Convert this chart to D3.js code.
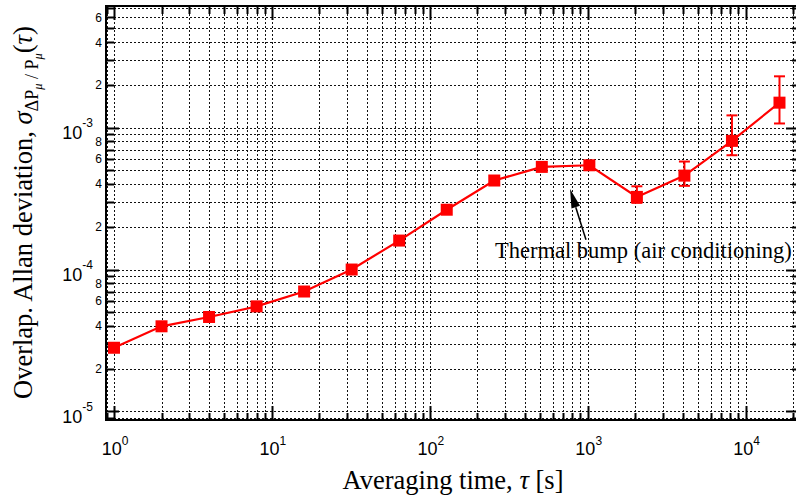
<!DOCTYPE html>
<html><head><meta charset="utf-8">
<script src="https://cdn.jsdelivr.net/npm/d3@7"></script>
<style>html,body{margin:0;padding:0;background:#fff;} svg{display:block}</style>
</head><body>
<svg id="c" width="796" height="500"></svg>
<script>
// ---- data ----
const tau   = [1, 2, 4, 8, 16, 32, 64, 128, 256, 512, 1024, 2048, 4096, 8192, 16384];
const adev  = [2.81e-5, 3.98e-5, 4.63e-5, 5.5e-5, 7.0e-5, 1.0e-4, 1.6e-4, 2.64e-4, 4.24e-4, 5.29e-4, 5.43e-4, 3.25e-4, 4.59e-4, 8.07e-4, 1.50e-3];
const errLo = [null, null, null, null, null, null, null, null, null, null, null, 2.95e-4, 3.89e-4, 6.39e-4, 1.07e-3];
const errHi = [null, null, null, null, null, null, null, null, null, null, null, 3.86e-4, 5.77e-4, 1.22e-3, 2.30e-3];
const xMajor = [1, 10, 100, 1000, 10000];
const xMajorExp = ["0", "1", "2", "3", "4"];
const yMajor = [1e-5, 1e-4, 1e-3];
const yMajorExp = ["-5", "-4", "-3"];
const yMinorDigits = [2, 4, 6, 8];
const annText = "Thermal bump (air conditioning)";
const annTextEnd = [19600, 1.2e-4];
const annArrowFrom = [975, 1.62e-4];
const annArrowTo = [773, 3.69e-4];

// ---- layout ----
const L = 106, R = 797, T = 6, B = 420;
const svg = d3.select("#c");
const x = d3.scaleLog().domain([0.89, 21150]).range([L, R]);
const y = d3.scaleLog().domain([8.7e-6, 7.2e-3]).range([B, T]);

function gridVals(scale) {
  const [a, b] = scale.domain();
  const out = [];
  for (let e = Math.floor(Math.log10(a)); e <= Math.ceil(Math.log10(b)); e++)
    for (let m = 1; m <= 9; m++) {
      const v = m * Math.pow(10, e);
      if (v >= a && v <= b) out.push(v);
    }
  return out;
}
const isMajor = v => Math.abs(Math.log10(v) - Math.round(Math.log10(v))) < 1e-9;
const xg = gridVals(x), yg = gridVals(y);
const px = v => Math.round(x(v)) + 0.5, py = v => Math.round(y(v)) + 0.5;

// grid
const g = svg.append("g").attr("stroke", "#111").attr("stroke-width", 1).attr("stroke-dasharray", "2,2");
g.selectAll("line.gx").data(xg).join("line").attr("class", "gx")
  .attr("x1", px).attr("x2", px).attr("y1", T).attr("y2", B);
g.selectAll("line.gy").data(yg).join("line").attr("class", "gy")
  .attr("y1", py).attr("y2", py).attr("x1", L).attr("x2", R);

// ticks
const tk = svg.append("g").attr("stroke", "#000").attr("stroke-width", 2);
tk.selectAll("line.tb").data(xg).join("line").attr("x1", px).attr("x2", px)
  .attr("y1", B).attr("y2", d => B - (isMajor(d) ? 14 : 7));
tk.selectAll("line.tt").data(xg).join("line").attr("x1", px).attr("x2", px)
  .attr("y1", T).attr("y2", d => T + (isMajor(d) ? 14 : 8));
tk.selectAll("line.tl").data(yg).join("line").attr("y1", py).attr("y2", py)
  .attr("x1", L).attr("x2", d => L + (isMajor(d) ? 13 : 8));
tk.selectAll("line.tr").data(yg).join("line").attr("y1", py).attr("y2", py)
  .attr("x1", R).attr("x2", d => R - (isMajor(d) ? 11 : 5));

// frame
svg.append("rect").attr("x", L).attr("y", T).attr("width", R - L).attr("height", B - T)
  .attr("fill", "none").attr("stroke", "#000").attr("stroke-width", 2);

// x tick labels
const sans = "'Liberation Sans', Arial, sans-serif";
const xl = svg.append("g").attr("font-family", sans).attr("fill", "#000");
xMajor.forEach((v, i) => {
  const t = xl.append("text").attr("x", x(v) + 1).attr("y", 455).attr("text-anchor", "middle").attr("font-size", 18);
  t.append("tspan").text("10");
  t.append("tspan").attr("font-size", 12).attr("dy", -10).text(xMajorExp[i]);
});
// y tick labels
yMajor.forEach((v, i) => {
  const t = xl.append("text").attr("x", 93).attr("y", y(v) + 11.7).attr("text-anchor", "end").attr("font-size", 18);
  t.append("tspan").text("10");
  t.append("tspan").attr("font-size", 12).attr("dy", -12).text(yMajorExp[i]);
});
const yMinorVals = [];
yMajor.concat([1e-2]).forEach(p => yMinorDigits.forEach(dg => {
  const v = dg * p;
  if (v >= y.domain()[0] && v <= y.domain()[1]) yMinorVals.push([v, dg]);
}));
xl.selectAll("text.ym").data(yMinorVals).join("text").attr("class", "ym")
  .attr("x", 102).attr("y", d => y(d[0]) + 4.3).attr("text-anchor", "end")
  .attr("font-size", 12).text(d => d[1]);

// data: line, error bars, markers
const pts = tau.map((t, i) => ({t, v: adev[i], lo: errLo[i], hi: errHi[i]}));
svg.append("path").datum(pts).attr("fill", "none").attr("stroke", "#ff0000").attr("stroke-width", 2.2)
  .attr("d", d3.line().x(d => x(d.t)).y(d => y(d.v)));
const eb = svg.append("g").attr("stroke", "#ff0000").attr("stroke-width", 2);
const ebPts = pts.filter(d => d.lo != null);
eb.selectAll("line.v").data(ebPts).join("line").attr("x1", d => x(d.t)).attr("x2", d => x(d.t))
  .attr("y1", d => y(d.lo)).attr("y2", d => y(d.hi));
eb.selectAll("line.h1").data(ebPts).join("line").attr("x1", d => x(d.t) - 5.5).attr("x2", d => x(d.t) + 5.5)
  .attr("y1", d => y(d.lo)).attr("y2", d => y(d.lo));
eb.selectAll("line.h2").data(ebPts).join("line").attr("x1", d => x(d.t) - 5.5).attr("x2", d => x(d.t) + 5.5)
  .attr("y1", d => y(d.hi)).attr("y2", d => y(d.hi));
const ms = 12;
svg.append("g").selectAll("rect").data(pts).join("rect")
  .attr("x", d => x(d.t) - ms / 2).attr("y", d => y(d.v) - ms / 2)
  .attr("width", ms).attr("height", ms).attr("fill", "#ff0000");

// annotation
const serif = "'Liberation Serif', 'Times New Roman', serif";
svg.append("text").attr("x", x(annTextEnd[0])).attr("y", y(annTextEnd[1])).attr("text-anchor", "end")
  .attr("font-family", serif).attr("font-size", 22.5).attr("fill", "#000").text(annText);
{
  const x0 = x(annArrowFrom[0]), y0 = y(annArrowFrom[1]);
  const x1 = x(annArrowTo[0]), y1 = y(annArrowTo[1]);
  const ang = Math.atan2(y1 - y0, x1 - x0);
  const hl = 19, hw = 4.5;
  const bx = x1 - hl * Math.cos(ang), by = y1 - hl * Math.sin(ang);
  svg.append("line").attr("x1", x0).attr("y1", y0).attr("x2", bx).attr("y2", by)
    .attr("stroke", "#000").attr("stroke-width", 1.5);
  const nx = -Math.sin(ang), ny = Math.cos(ang);
  svg.append("path").attr("fill", "#000")
    .attr("d", `M${x1},${y1}L${bx + nx * hw},${by + ny * hw}L${bx - nx * hw},${by - ny * hw}Z`);
}

// axis titles
svg.append("text").attr("x", 453).attr("y", 489).attr("text-anchor", "middle")
  .attr("font-family", serif).attr("font-size", 26.5).attr("fill", "#000")
  .call(t => {
    t.append("tspan").text("Averaging time, ");
    t.append("tspan").attr("font-style", "italic").text("τ");
    t.append("tspan").text(" [s]");
  });
svg.append("text").attr("transform", "translate(32,399) rotate(-90)")
  .attr("font-family", serif).attr("font-size", 26.5).attr("fill", "#000")
  .call(t => {
    t.append("tspan").text("Overlap. Allan deviation, ");
    t.append("tspan").attr("font-style", "italic").text("σ");
    t.append("tspan").attr("font-size", 18).attr("dy", 6).text("ΔP");
    t.append("tspan").attr("font-size", 12.5).attr("font-style", "italic").attr("dy", 4).text("μ");
    t.append("tspan").attr("font-size", 18).attr("dy", -4).text(" / P");
    t.append("tspan").attr("font-size", 12.5).attr("font-style", "italic").attr("dy", 4).text("μ");
    t.append("tspan").attr("dy", -10).text("(");
    t.append("tspan").attr("font-style", "italic").text("τ");
    t.append("tspan").text(")");
  });
</script>
</body></html>
